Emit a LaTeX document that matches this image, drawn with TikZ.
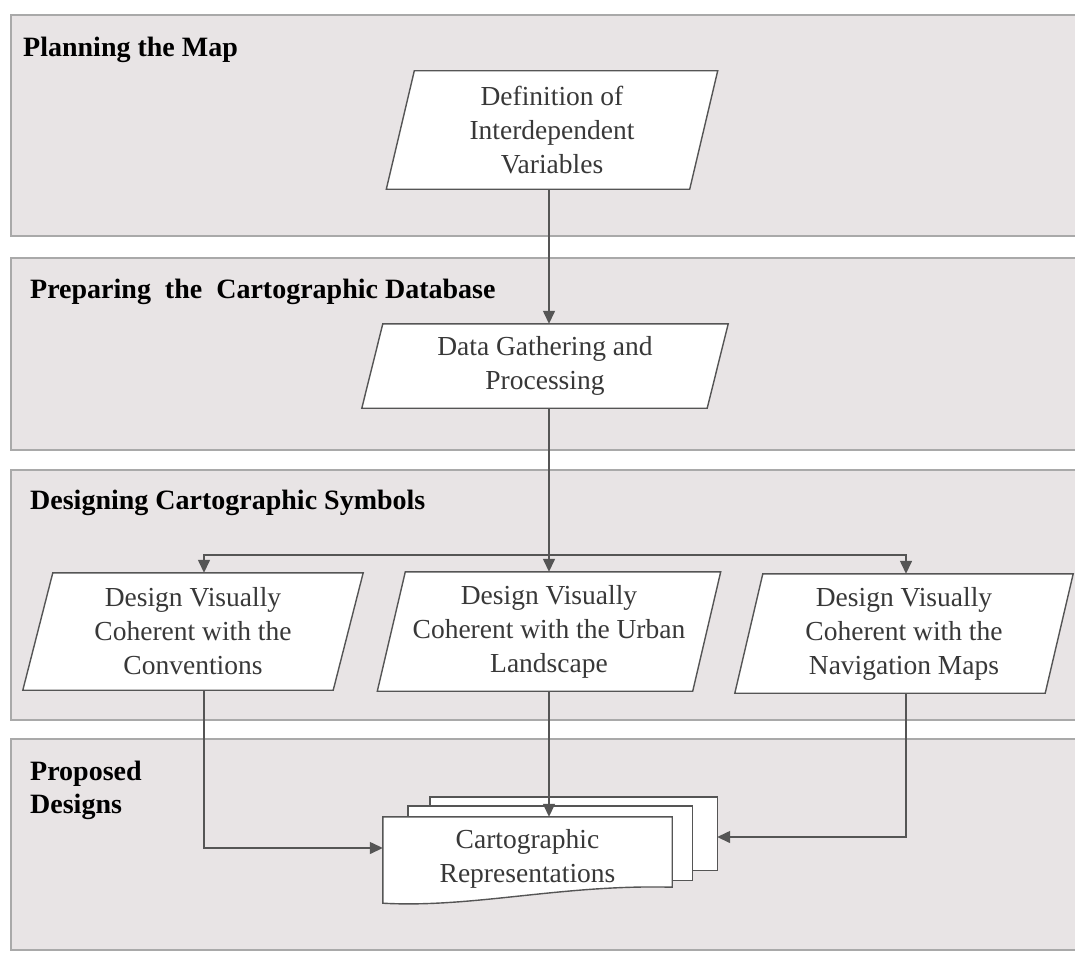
\documentclass[tikz,border=0pt]{standalone}
\usepackage{fontspec}
\setmainfont{Liberation Serif}
\usetikzlibrary{arrows.meta,calc}
\pgfdeclarelayer{bg}
\pgfdeclarelayer{mid}
\pgfsetlayers{bg,mid,main}
\definecolor{panelfill}{HTML}{E8E4E5}
\definecolor{panelline}{HTML}{A9A9A9}
\definecolor{shapeline}{HTML}{555555}
\definecolor{txt}{HTML}{383838}
\newcommand\nodefont{\fontsize{27.5}{34}\selectfont}
\newcommand\headfont{\fontsize{28}{33}\selectfont\bfseries}
\newcommand\drawpara[2]{\draw[shp] ([xshift=#2pt]#1.north west) -- ([xshift=#2pt]#1.north east) -- ([xshift=-#2pt]#1.south east) -- ([xshift=-#2pt]#1.south west) -- cycle;}
\tikzset{
  panel/.style={fill=panelfill, draw=panelline, line width=2pt},
  shp/.style={fill=white, draw=shapeline, line width=1.4pt},
  box/.style={rectangle, inner sep=0pt, align=center, font=\nodefont, text=txt},
  head/.style={anchor=base west, inner sep=0pt, font=\headfont, text=black, align=left},
  arr/.style={draw=shapeline, line width=1.4pt, -{Triangle[length=13pt,width=12pt]}},
}
\begin{document}
\begin{tikzpicture}[x=1pt,y=-1pt]
\useasboundingbox (0,0) rectangle (1075,952);
\begin{pgfonlayer}{bg}
  \fill[white] (0,0) rectangle (1075,952);
  \draw[panel] (11,15) rectangle (1085,236);
  \draw[panel] (11,258) rectangle (1085,450);
  \draw[panel] (11,470) rectangle (1085,720);
  \draw[panel] (11,739) rectangle (1085,950);
\end{pgfonlayer}

% headers
\node[head] (h1) at (23,57) {Planning the Map};
\node[head] (h2) at (30,298) {Preparing\ \ the\ \ Cartographic Database};
\node[head] (h3) at (30,509) {Designing Cartographic Symbols};
\node[head] (h4a) at (30,780) {Proposed};
\node[head] (h4b) at (30,813) {Designs};

% process nodes
\node[box, minimum width=303pt, minimum height=118pt] (n1) at (552,130) {Definition of\\Interdependent\\Variables};
\node[box, minimum width=345pt, minimum height=84pt] (n2) at (545,366) {Data Gathering and\\Processing};
\node[box, minimum width=310pt, minimum height=117pt] (n3l) at (193,631.5) {Design Visually\\Coherent with the\\Conventions};
\node[box, minimum width=315pt, minimum height=119pt] (n3m) at (549,631.5) {Design Visually\\Coherent with the Urban\\Landscape};
\node[box, minimum width=310pt, minimum height=119pt] (n3r) at (904,633.5) {Design Visually\\Coherent with the\\Navigation Maps};
\node[box, minimum width=289pt, minimum height=83pt] (doc) at (527.5,858.5) {Cartographic\\Representations};

\begin{pgfonlayer}{mid}
  \drawpara{n1}{14}
  \drawpara{n2}{10.5}
  \drawpara{n3l}{15}
  \drawpara{n3m}{14}
  \drawpara{n3r}{14}
  % stacked documents
  \draw[shp] ([xshift=47pt,yshift=20pt]doc.north west) rectangle ([xshift=45pt,yshift=30pt]doc.south east);
  \draw[shp] ([xshift=25pt,yshift=11pt]doc.north west) rectangle ([xshift=20pt,yshift=20pt]doc.south east);
  \draw[shp] (doc.north west) -- (doc.north east) -- ([yshift=13pt]doc.south east)
    .. controls ([xshift=-110pt,yshift=16pt]doc.south east) and ([xshift=90pt,yshift=-8pt]doc.south west) .. ([yshift=-3pt]doc.south west) -- cycle;
\end{pgfonlayer}

% connectors
\coordinate (col) at (549,0);
\coordinate (split) at (549,555);
\draw[arr] (n1.south -| col) -- (n2.north -| col);
\draw[arr] (n2.south -| col) -- (n3m.north -| col);
\draw[arr] (split) -| ([xshift=11pt]n3l.north);
\draw[arr] (split) -| ([xshift=2pt]n3r.north);
\draw[arr] (n3m.south -| col) -- (doc.north -| col);
\draw[arr] ([xshift=11pt]n3l.south) |- ([yshift=10.5pt]doc.west);
\draw[arr] ([xshift=2pt]n3r.south) |- ([xshift=45pt,yshift=21.5pt]doc.east);
\end{tikzpicture}
\end{document}
